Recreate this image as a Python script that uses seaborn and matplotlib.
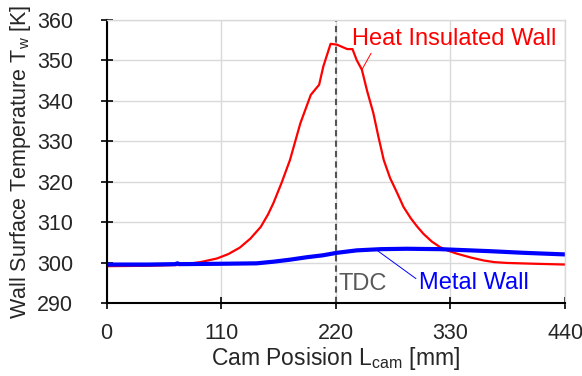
import numpy as np
import pandas as pd
import matplotlib
matplotlib.use('agg')
import seaborn as sns
import matplotlib.pyplot as plt

# heat insulated wall (red)
ins_x = [0, 40, 70, 90, 106, 117, 128, 138, 148, 155, 160, 168, 176, 186, 196, 204, 208,
         215, 221, 231, 236, 240, 245, 250, 256, 261, 266, 272, 279, 285, 292, 298, 304,
         312, 320, 328, 336, 350, 362, 372, 384, 410, 440]
ins_t = [299.2, 299.3, 299.5, 300.2, 301.1, 302.2, 303.8, 306.0, 308.9, 312.0, 314.7, 319.8,
         325.4, 334.5, 341.5, 344.0, 348.5, 354.1, 353.9, 352.8, 352.8, 350.1, 347.7, 342.5,
         337.0, 331.0, 325.4, 321.0, 317.2, 313.8, 311.0, 309.0, 307.2, 305.3, 303.9, 303.0,
         302.3, 301.3, 300.6, 300.2, 300.0, 299.8, 299.6]

# metal wall (blue)
met_x = [0, 40, 66, 68, 70, 112, 144, 160, 176, 192, 208, 221, 240, 263, 288, 320, 368, 400, 440]
met_t = [299.6, 299.6, 299.7, 299.9, 299.7, 299.8, 299.9, 300.3, 300.8, 301.4, 301.9, 302.5,
         303.1, 303.4, 303.5, 303.4, 302.9, 302.5, 302.1]

xticks = [0, 110, 220, 330, 440]
yticks = [290, 300, 310, 320, 330, 340, 350, 360]
TDC = 220

sns.set_style("whitegrid")
plt.rcParams['font.family'] = ['Liberation Sans', 'DejaVu Sans']
plt.rcParams['mathtext.default'] = 'regular'

fig = plt.figure(figsize=(5.82, 3.76), dpi=100)
ax = fig.add_axes([0.183, 0.193, 0.788, 0.754])

ins = pd.DataFrame({"x": ins_x, "t": ins_t})
met = pd.DataFrame({"x": met_x, "t": met_t})
sns.lineplot(data=ins, x="x", y="t", color="#ff0000", lw=1.6, ax=ax)
sns.lineplot(data=met, x="x", y="t", color="#0000ff", lw=3.0, ax=ax)

ax.axvline(TDC, color="#555555", ls="--", lw=1.5, dashes=(3, 2))

ax.set_xlim(0, 440)
ax.set_ylim(290, 360)
ax.set_xticks(xticks)
ax.set_yticks(yticks)
ax.grid(True, color="#d9d9d9", lw=1)
for s in ["top", "right"]:
    ax.spines[s].set_color("#d9d9d9")
    ax.spines[s].set_linewidth(1)
for s in ["left", "bottom"]:
    ax.spines[s].set_color("black")
    ax.spines[s].set_linewidth(1.5)
ax.tick_params(axis="both", direction="inout", length=8, width=1.2, color="black",
               labelsize=15.5, bottom=True, left=True)
ax.tick_params(axis="y", pad=20)
ax.tick_params(axis="x", pad=10)

ax.set_xlabel("Cam Posision L$_{cam}$ [mm]", fontsize=16.5, labelpad=1)
ax.set_ylabel("Wall Surface Temperature T$_w$ [K]", fontsize=15.5, labelpad=3)

ax.annotate("Heat Insulated Wall", xy=(245, 347.7), xytext=(236, 355.3),
            color="#ff0000", fontsize=17, va="center", ha="left",
            arrowprops=dict(arrowstyle="-", color="#ff0000", lw=0.7,
                            shrinkA=0, shrinkB=0, relpos=(0.1, 0.0)))
ax.annotate("Metal Wall", xy=(258, 303.4), xytext=(300, 295.0),
            color="#0000ff", fontsize=17, va="center", ha="left",
            arrowprops=dict(arrowstyle="-", color="#0000ff", lw=0.7,
                            shrinkA=0, shrinkB=0, relpos=(0.0, 0.6)))
ax.text(223, 294.8, "TDC", color="#595959", fontsize=17, va="center", ha="left")

fig.savefig("out.png", dpi=100)
